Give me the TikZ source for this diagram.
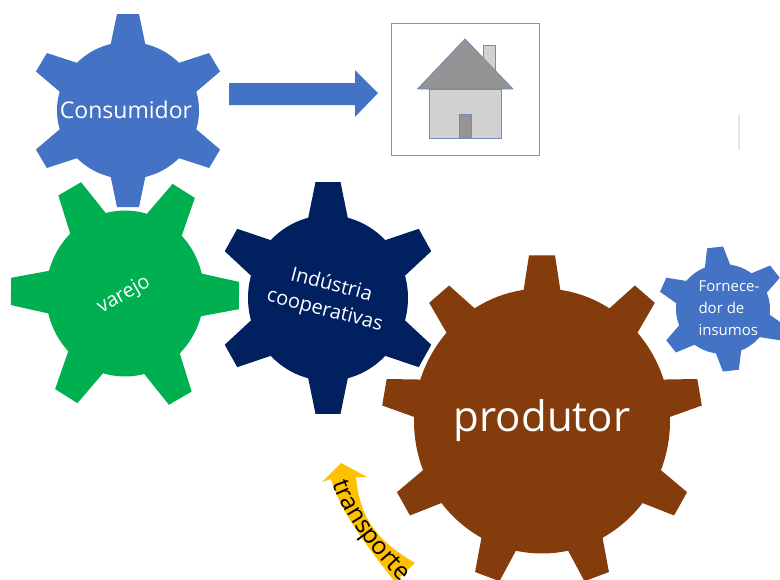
\documentclass[tikz,border=0pt]{standalone}
\usepackage{fontspec}
\setmainfont{Open Sans}
\usetikzlibrary{decorations.text}
\definecolor{cblue}{HTML}{4472C4}
\definecolor{cgreen}{HTML}{00B050}
\definecolor{cnavy}{HTML}{002060}
\definecolor{cbrown}{HTML}{843C0C}
\definecolor{cgold}{HTML}{FFC000}
\definecolor{cline}{HTML}{6F8DB8}
\definecolor{cframe}{HTML}{7F98A8}
\tikzset{
  geartext/.style={text=white,align=center,inner sep=0pt},
  houseline/.style={draw=cline,line width=0.8pt,line join=round},
}
% cx cy r R n startangle basehalf tiphalf colour; \gearys = vertical stretch
\newcommand{\gearshape}[9]{%
  \fill[#9] (#1,#2) ellipse ({#3} and {#3*\gearys});
  \foreach \ti in {1,...,#5}{%
    \pgfmathsetmacro{\ta}{#6+360/#5*(\ti-1)}%
    \pgfmathsetmacro{\ux}{cos(\ta)}%
    \pgfmathsetmacro{\uy}{-sin(\ta)}%
    \pgfmathsetmacro{\vx}{sin(\ta)}%
    \pgfmathsetmacro{\vy}{cos(\ta)}%
    \pgfmathsetmacro{\rb}{#3*sqrt(1-(#7/#3)*(#7/#3))-1}%
    \fill[#9]
      ({#1+\rb*\ux-#7*\vx},{#2+\gearys*(\rb*\uy-#7*\vy)}) --
      ({#1+#4*\ux-#8*\vx},{#2+\gearys*(#4*\uy-#8*\vy)}) --
      ({#1+#4*\ux+#8*\vx},{#2+\gearys*(#4*\uy+#8*\vy)}) --
      ({#1+\rb*\ux+#7*\vx},{#2+\gearys*(\rb*\uy+#7*\vy)}) -- cycle;
  }%
}
\begin{document}
\begin{tikzpicture}[x=1pt,y=-1pt]
\useasboundingbox (0,0) rectangle (780,579);
\clip (0,0) rectangle (780,579);
\fill[white] (0,0) rectangle (780,579);
% gears
\def\gearys{0.965}
\gearshape{128}{110.5}{71}{100}{6}{90}{17.5}{11}{cblue}
\def\gearys{1.05}
\gearshape{125}{293.5}{79}{114}{6}{-1}{20.5}{13}{cgreen}
\def\gearys{1.035}
\gearshape{328}{298}{80}{112}{6}{90}{20}{12.5}{cnavy}
\def\gearys{1.035}
\gearshape{542}{421}{128}{160}{9}{90}{18.5}{13}{cbrown}
\def\gearys{0.955}
\gearshape{723}{309}{47}{65}{6}{97}{13}{8}{cblue}
% block arrow
\fill[cblue] (229,83) -- (355,83) -- (355,70) -- (378,93) -- (355,117) -- (355,105) -- (229,105) -- cycle;
% house
\draw[cframe,line width=0.8pt,fill=white] (391,23) rectangle (539,155);
\draw[houseline,fill=black!18] (483,45) rectangle (495,72);
\draw[houseline,fill=black!18] (429,89) rectangle (501,138);
\draw[houseline,fill=black!42] (459,114) rectangle (471,138);
\draw[houseline,fill=black!42] (465,39) -- (513,89) -- (417.5,89) -- cycle;
% faint line
\draw[black!10,line width=1.2pt] (739,115) -- (739,150);
% curved arrow
\fill[cgold] (331,479) .. controls (340,510) and (362,540) .. (395,582)
  -- (415,563) .. controls (385,545) and (360,525) .. (356,477)
  -- (367,477) -- (341,463) -- (322,482) -- cycle;
\path[y=1pt,postaction={decorate,decoration={text along path,
   text={|\fontsize{24.5}{24.5}\selectfont|transporte},raise=0pt,text align=left}}]
   (333,-483) .. controls (342,-510) and (365,-548) .. (412,-592);
% labels
\node[geartext,font=\fontsize{23}{26}\selectfont] (consumidor) at (126,110) {Consumidor};
\node[geartext,font=\fontsize{20}{24}\selectfont,rotate=30] (varejo) at (124,295) {varejo};
\node[geartext,font=\fontsize{20}{26}\selectfont,rotate=-14.5] (industria) at (328,298) {Indústria\\cooperativas};
\node[geartext,font=\fontsize{42}{48}\selectfont] (produtor) at (542,421) {produtor};
\node[geartext,font=\fontsize{15}{22}\selectfont,align=left] (fornecedor) at (729,308) {Fornece-\\dor de\\insumos};
\end{tikzpicture}
\end{document}
